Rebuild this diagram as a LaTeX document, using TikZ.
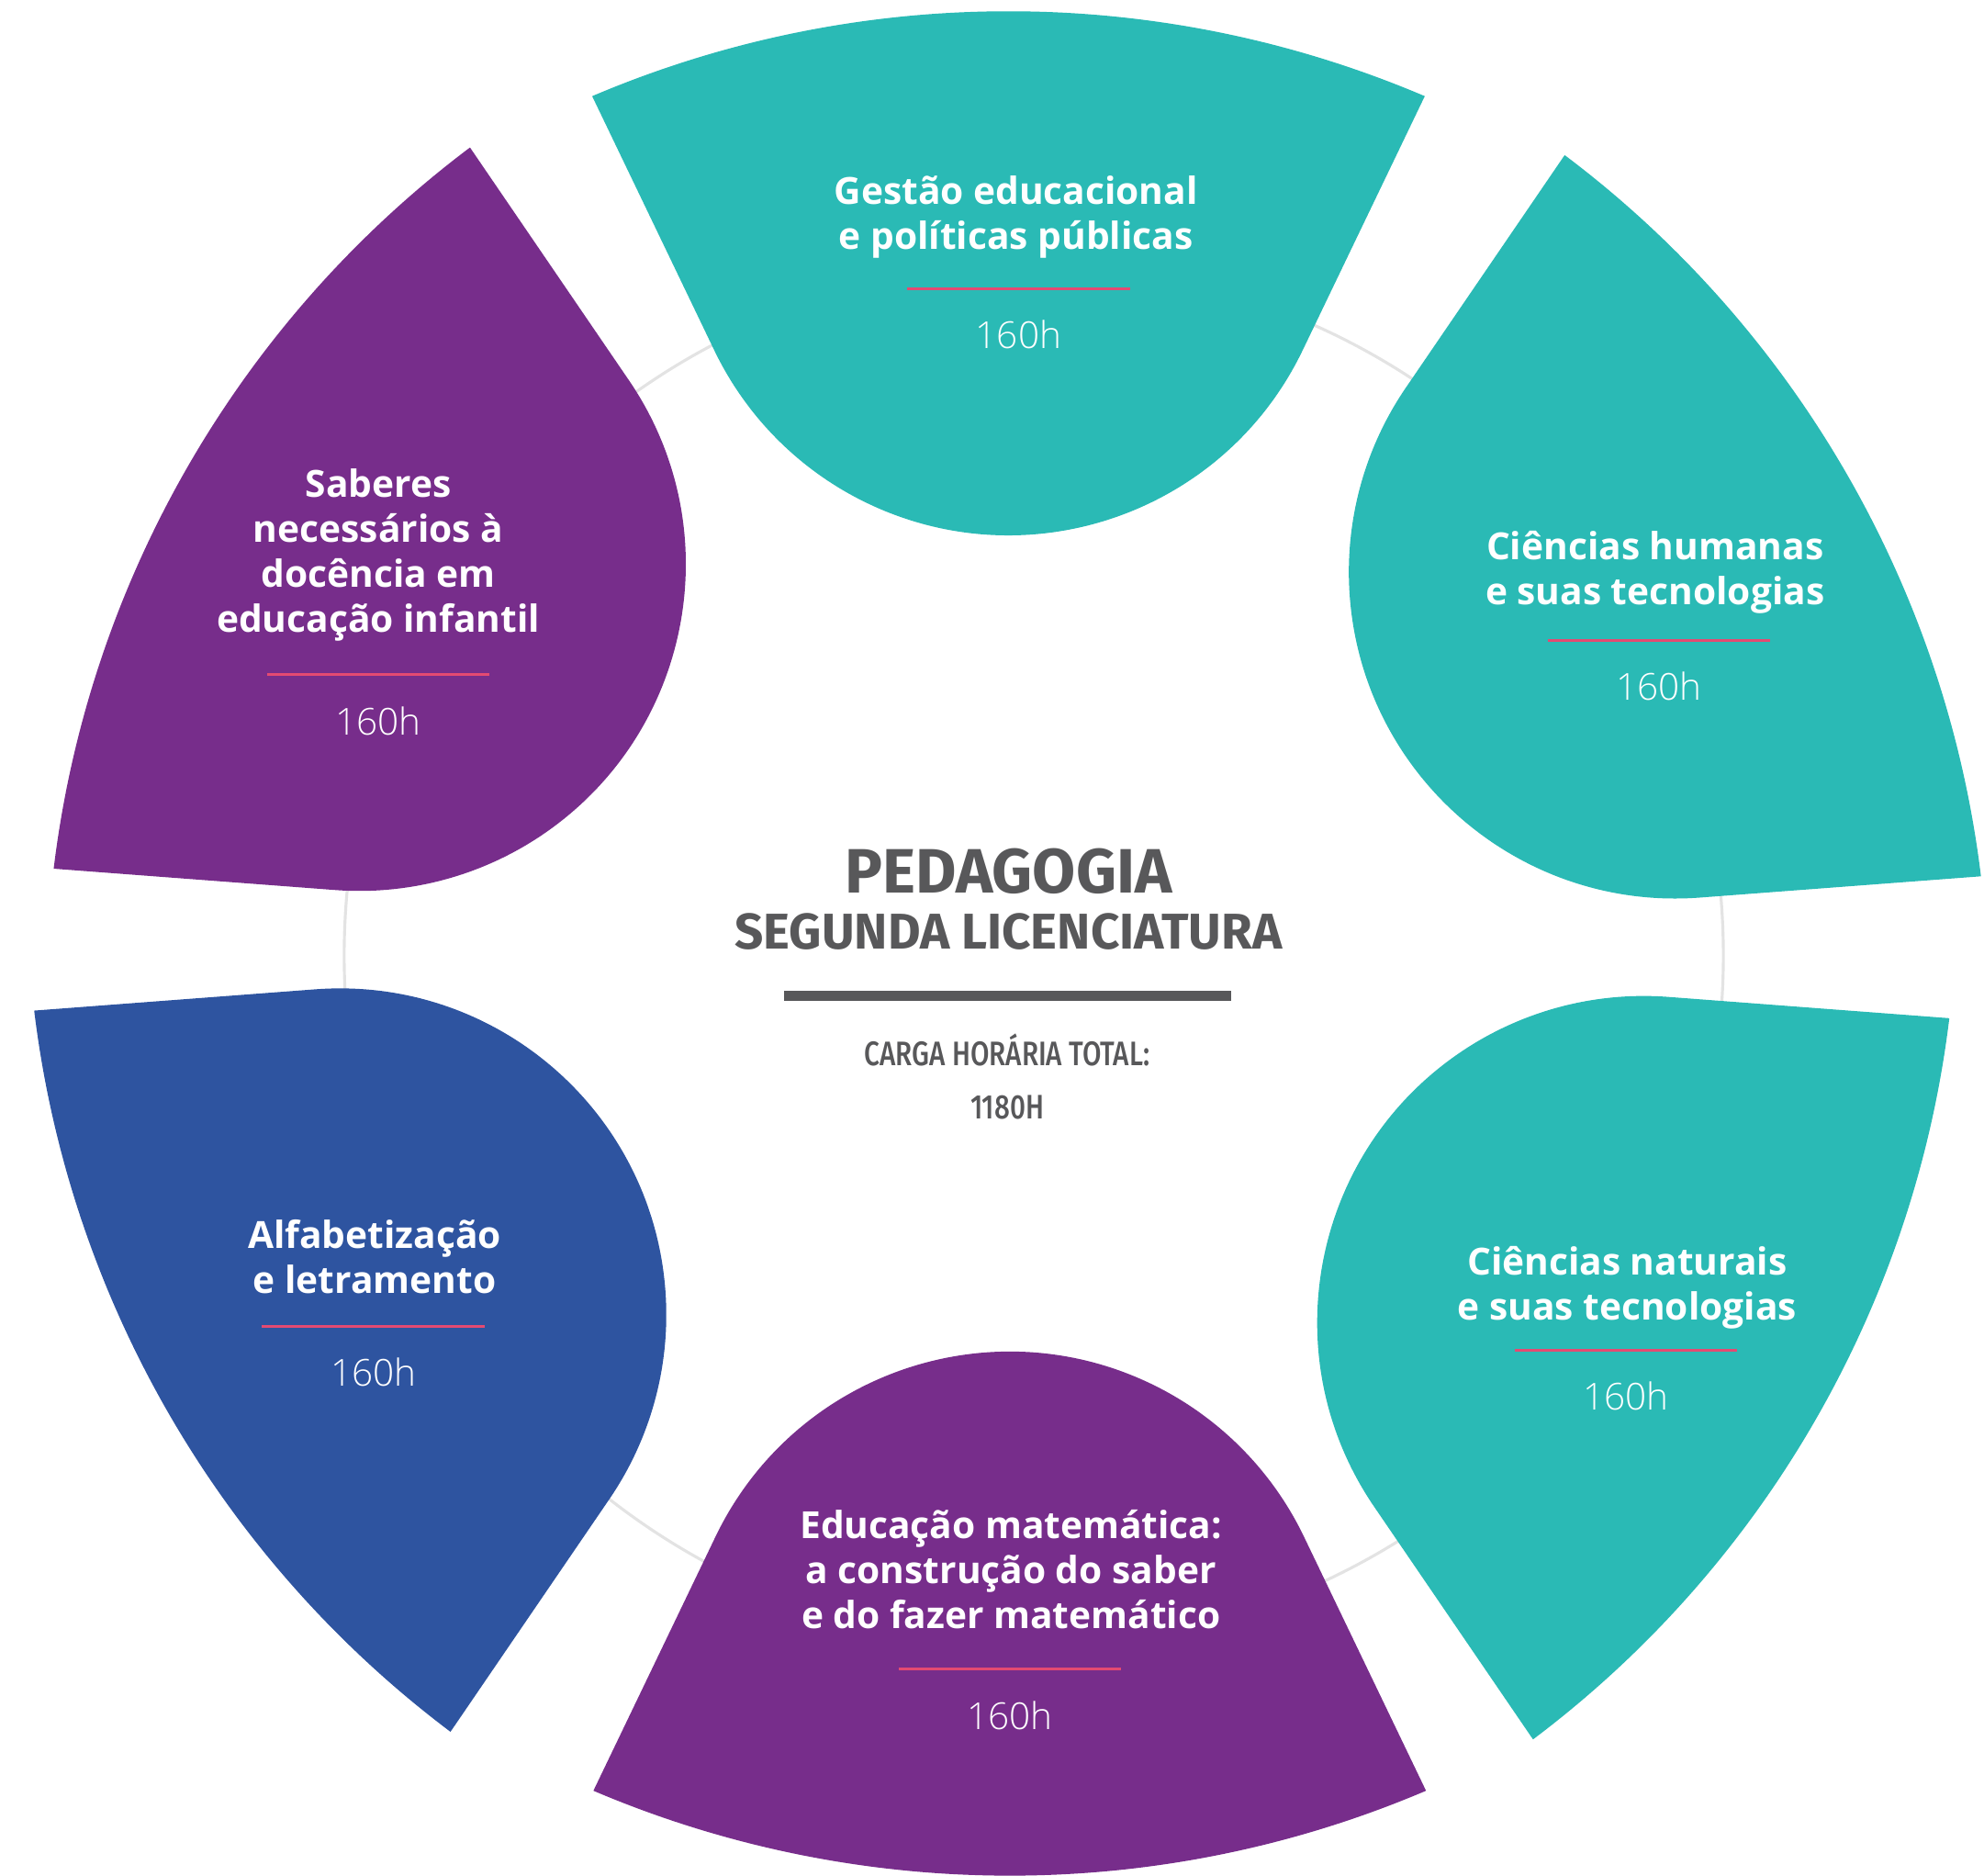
\documentclass[tikz,border=0pt]{standalone}
\usepackage{fontspec}
\usepackage{graphicx}
\setmainfont{Open Sans}
\newfontfamily\titlefont{Open Sans}
\newfontfamily\lightfont{Open Sans Light}
\newfontfamily\headfont{Fira Sans}
\newfontfamily\mediumfont{Fira Sans Medium}
\usetikzlibrary{positioning}

\definecolor{petalteal}{HTML}{2ABAB5}
\definecolor{petalpurple}{HTML}{772D8B}
\definecolor{petalblue}{HTML}{2E54A0}
\definecolor{rulepink}{HTML}{E44A72}
\definecolor{textgray}{HTML}{58585A}
\definecolor{ringgray}{HTML}{E3E3E3}

% one petal: position of its round end, rotation, colour
\newcommand{\petal}[3]{%
  \fill[#3, shift={#1}, rotate=#2] (-329,89) arc[start angle=113.06, end angle=66.94, radius=840]
    -- (-25.66:258) arc[start angle=-25.66, end angle=-154.34, radius=258] -- cycle;}

\begin{document}
\begin{tikzpicture}[x=0.02cm, y=0.02cm,
    ring/.style={draw=ringgray, line width=1.3pt},
    title/.style={text=white, align=center, font=\titlefont\bfseries\fontsize{16.8}{20.3}\selectfont},
    hours/.style={text=white, anchor=base, font=\lightfont\fontsize{16.7}{20}\selectfont},
    rule/.style={draw=rulepink, line width=1.15pt},
    head/.style={text=textgray, anchor=base, inner sep=0pt, font=\headfont\bfseries\fontsize{28.2}{31}\selectfont},
    subhead/.style={text=textgray, anchor=base, inner sep=0pt, font=\headfont\bfseries\fontsize{22.6}{26}\selectfont},
    small/.style={text=textgray, anchor=base, inner sep=0pt, font=\mediumfont\fontsize{15.3}{18}\selectfont},
    bar/.style={draw=textgray, line width=4.65pt}
  ]
  \useasboundingbox (0,0) rectangle (1568,1482);

  % ring behind the petals
  \draw[ring] (817,727) circle[radius=545];

  % petals
  \petal{(797,1317)}{0}{petalteal}
  \petal{(1324,1030)}{-60}{petalteal}
  \petal{(1299,437)}{-120}{petalteal}
  \petal{(798,156)}{180}{petalpurple}
  \petal{(268.6,443)}{120}{petalblue}
  \petal{(284,1036)}{60}{petalpurple}

  % centre
  \node[head] (pedagogia) at (797,776.6) {PEDAGOGIA};
  \node[subhead] (segunda) at (797,732) {SEGUNDA LICENCIATURA};
  \draw[bar] (620,695) -- (973,695);
  \node[small] (carga) at (796,640.3) {\scalebox{0.8}[1]{CARGA HORÁRIA TOTAL:}};
  \node[small] (total) at (796,597.9) {\scalebox{0.8}[1]{1180H}};

  % petal texts
  \node[title] (gestao) at (803,1310.5) {Gestão educacional\\ e políticas públicas};
  \node[hours] (gestaoH) at (805,1206.5) {160h};
  \draw[rule] ([shift={(-88,47.5)}]gestaoH.base) -- ++(176,0);

  \node[title] (humanas) at (1308,1029.5) {Ciências humanas\\ e suas tecnologias};
  \node[hours] (humanasH) at (1311,928.5) {160h};
  \draw[rule] ([shift={(-88,47.5)}]humanasH.base) -- ++(176,0);

  \node[title] (saberes) at (299,1043.5) {Saberes\\ necessários à\\ docência em\\ educação infantil};
  \node[hours] (saberesH) at (299,901.5) {160h};
  \draw[rule] ([shift={(-88,47.5)}]saberesH.base) -- ++(176,0);

  \node[title] (alfa) at (296,489) {Alfabetização\\ e letramento};
  \node[hours] (alfaH) at (295,386.5) {160h};
  \draw[rule] ([shift={(-88,47.5)}]alfaH.base) -- ++(176,0);

  \node[title] (naturais) at (1286,464.5) {Ciências naturais\\ e suas tecnologias};
  \node[hours] (naturaisH) at (1285,367.5) {160h};
  \draw[rule] ([shift={(-88,47.5)}]naturaisH.base) -- ++(176,0);

  \node[title] (matematica) at (799,242) {Educação matemática:\\ a construção do saber\\ e do fazer matemático};
  \node[hours] (matematicaH) at (798,115.5) {160h};
  \draw[rule] ([shift={(-88,47.5)}]matematicaH.base) -- ++(176,0);
\end{tikzpicture}
\end{document}
